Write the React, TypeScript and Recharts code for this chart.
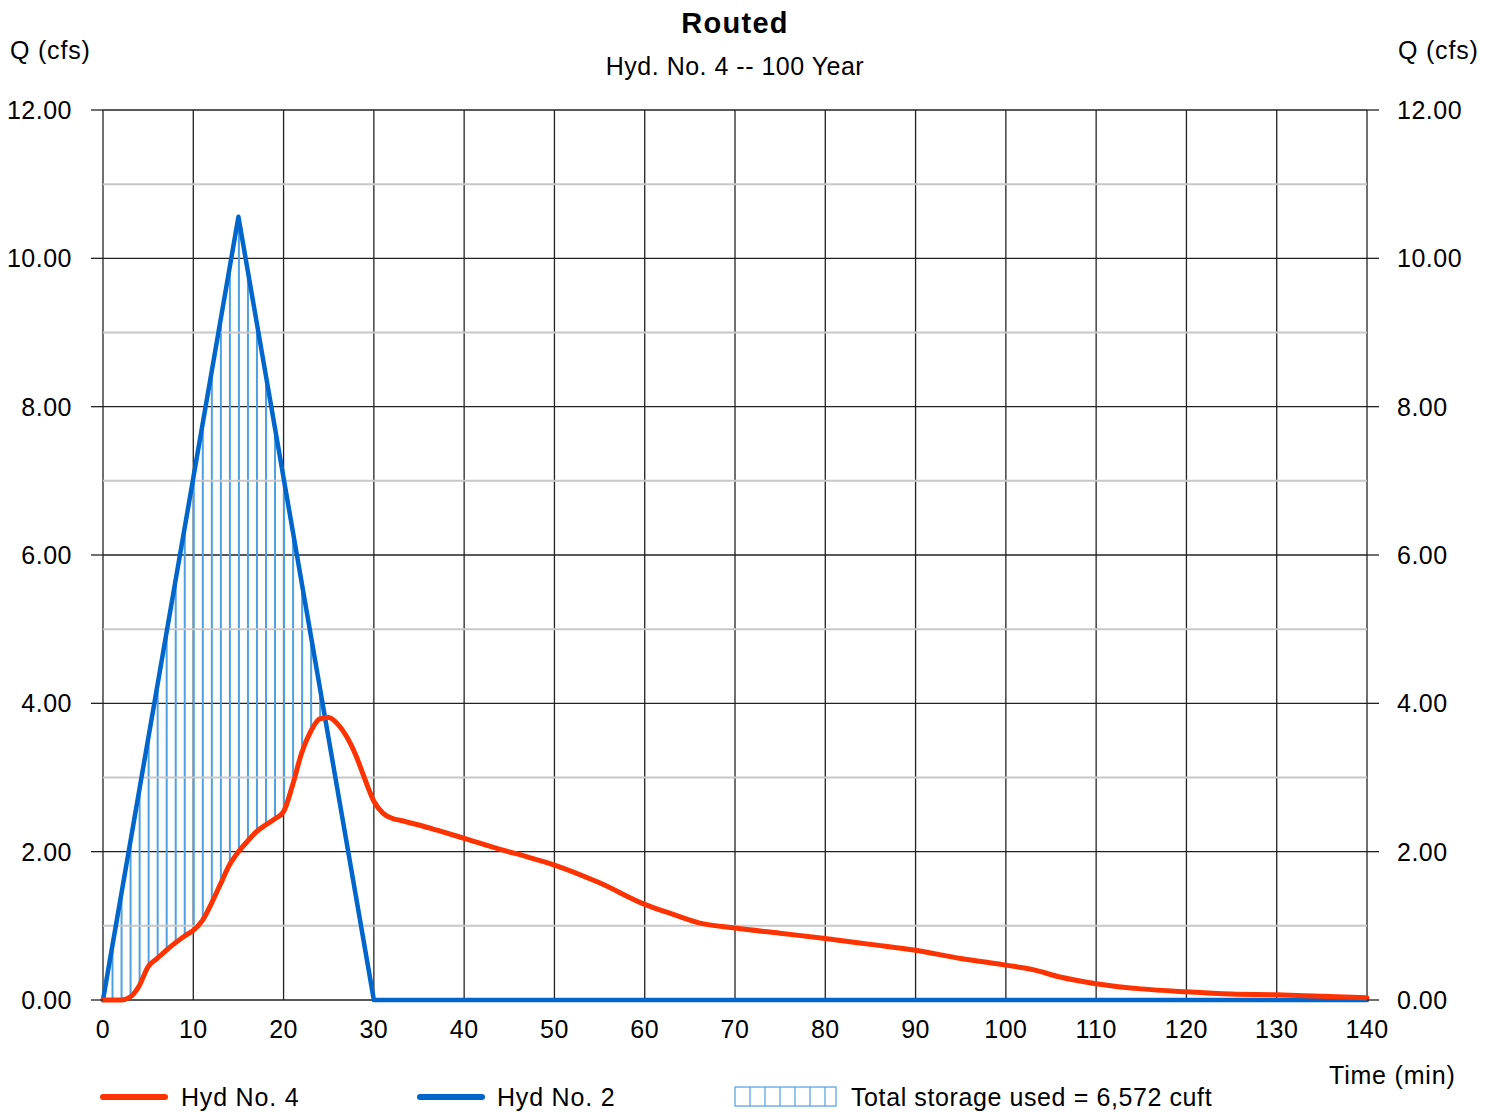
import React from "react";
import {
    ComposedChart,
    Line,
    Bar,
    XAxis,
    YAxis,
    CartesianGrid,
    ReferenceLine,
} from "recharts";

const redTimes = [
    0, 1, 2, 3, 4, 5, 6, 7, 8, 9, 10, 11, 12, 13, 14, 15, 16, 17, 18, 19, 20, 21, 22, 23, 24, 25, 26, 27, 28, 29, 30, 31, 32, 33,
    35, 37, 40, 44, 47, 50, 55, 60, 63, 66, 70, 75, 80, 85, 90, 95, 100, 103, 106, 110, 115, 120, 125, 130, 135, 140,
];
const redFlow = [
    0, 0, 0, 0.04, 0.19, 0.45, 0.56, 0.67, 0.77, 0.86, 0.94, 1.07, 1.3, 1.56, 1.82, 2.0, 2.14, 2.27, 2.36, 2.44, 2.54, 2.9, 3.33,
    3.62, 3.79, 3.81, 3.72, 3.55, 3.3, 2.98, 2.68, 2.52, 2.45, 2.42,
    2.36, 2.29, 2.18, 2.03, 1.93, 1.82, 1.58, 1.29, 1.16, 1.04, 0.97, 0.9, 0.83, 0.75, 0.67, 0.56, 0.47, 0.41, 0.31, 0.22, 0.15,
    0.11, 0.08, 0.07, 0.05, 0.03,
];

const blueTimes = [0, 15, 30, 140];
const blueFlow = [0, 10.56, 0, 0];

// storage hatch: one vertical stroke per minute, from outflow up to inflow
const hatchTimes = [1, 2, 3, 4, 5, 6, 7, 8, 9, 10, 11, 12, 13, 14, 15, 16, 17, 18, 19, 20, 21, 22, 23, 24];
const hatchTop = [
    0.7, 1.41, 2.11, 2.82, 3.52, 4.22, 4.93, 5.63, 6.34, 7.04, 7.74, 8.45, 9.15, 9.86, 10.56, 9.86, 9.15, 8.45, 7.74, 7.04,
    6.34, 5.63, 4.93, 4.22,
];

const xTicks = [0, 10, 20, 30, 40, 50, 60, 70, 80, 90, 100, 110, 120, 130, 140];
const yTicks = [0, 2, 4, 6, 8, 10, 12];
const yMinor = [1, 3, 5, 7, 9, 11];

type Row = { t: number; red?: number; blue?: number; hatch?: [number, number] };

const buildRows = (): Row[] => {
    const map = new Map<number, Row>();
    const get = (t: number) => {
        if (!map.has(t)) map.set(t, { t });
        return map.get(t)!;
    };
    redTimes.forEach((t, i) => (get(t).red = redFlow[i]));
    blueTimes.forEach((t, i) => (get(t).blue = blueFlow[i]));
    hatchTimes.forEach((t, i) => {
        const low = redFlow[redTimes.indexOf(t)];
        get(t).hatch = [low, hatchTop[i]];
    });
    return Array.from(map.values()).sort((a, b) => a.t - b.t);
};

const data = buildRows();

const FONT = '"Liberation Sans", Arial, sans-serif';
const RED = "#ff3300";
const BLUE = "#0066cc";
const HATCH = "#4ea1e0";

const tickStyle = { fill: "#000", fontSize: 25, fontFamily: FONT, letterSpacing: 0.5 };

const txt: React.CSSProperties = {
    position: "absolute",
    fontFamily: FONT,
    fontSize: 25,
    color: "#000",
    whiteSpace: "nowrap",
    lineHeight: "25px",
    letterSpacing: 0.8,
};

const App = () => {
    return (
        <div style={{ position: "absolute", left: 0, top: 0, width: 1496, height: 1112, background: "#fff", overflow: "hidden" }}>
            <ComposedChart width={1496} height={1112} data={data} margin={{ top: 110, right: 0, bottom: 0, left: 0 }}>
                <CartesianGrid stroke="#222" strokeWidth={1.3} horizontal={false} verticalValues={xTicks} />
                {yMinor.map((v) => (
                    <ReferenceLine key={v} yAxisId="left" y={v} stroke="#c8c8c8" strokeWidth={2} />
                ))}
                <CartesianGrid stroke="#222" strokeWidth={1.3} vertical={false} yAxisId="left" />
                <XAxis
                    dataKey="t"
                    type="number"
                    domain={[0, 140]}
                    ticks={xTicks}
                    height={112}
                    axisLine={false}
                    tickLine={false}
                    tickSize={0}
                    tickMargin={20}
                    tick={tickStyle}
                />
                <YAxis
                    yAxisId="left"
                    orientation="left"
                    domain={[0, 12]}
                    ticks={yTicks}
                    width={103}
                    axisLine={false}
                    tickSize={12}
                    tickMargin={19}
                    tickLine={{ stroke: "#222", strokeWidth: 1.3 }}
                    tickFormatter={(v: number) => v.toFixed(2)}
                    tick={tickStyle}
                />
                <YAxis
                    yAxisId="right"
                    orientation="right"
                    domain={[0, 12]}
                    ticks={yTicks}
                    width={129}
                    axisLine={false}
                    tickSize={12}
                    tickMargin={18}
                    tickLine={{ stroke: "#222", strokeWidth: 1.3 }}
                    tickFormatter={(v: number) => v.toFixed(2)}
                    tick={tickStyle}
                />
                <Bar yAxisId="left" dataKey="hatch" barSize={2} fill={HATCH} isAnimationActive={false} />
                <Line
                    yAxisId="left"
                    type="linear"
                    dataKey="blue"
                    stroke={BLUE}
                    strokeWidth={4.5}
                    dot={false}
                    connectNulls
                    strokeLinejoin="round"
                    strokeLinecap="round"
                    isAnimationActive={false}
                />
                <Line
                    yAxisId="right"
                    type="monotone"
                    dataKey="red"
                    stroke={RED}
                    strokeWidth={5}
                    dot={false}
                    connectNulls
                    strokeLinejoin="round"
                    strokeLinecap="round"
                    isAnimationActive={false}
                />
            </ComposedChart>

            {/* titles and axis captions */}
            <div style={{ ...txt, left: 0, width: 1470, top: 9, textAlign: "center", fontWeight: "bold", fontSize: 29, lineHeight: "29px", letterSpacing: 1.3 }}>
                Routed
            </div>
            <div style={{ ...txt, left: 0, width: 1470, top: 54, textAlign: "center", letterSpacing: 0.5 }}>Hyd. No. 4 -- 100 Year</div>
            <div style={{ ...txt, left: 10, top: 38 }}>Q (cfs)</div>
            <div style={{ ...txt, left: 1398, top: 38 }}>Q (cfs)</div>
            <div style={{ ...txt, left: 1329, top: 1063 }}>Time (min)</div>

            {/* legend */}
            <div style={{ position: "absolute", left: 100, top: 1094, width: 68, height: 6, borderRadius: 3, background: RED }} />
            <div style={{ ...txt, left: 181, top: 1085 }}>Hyd No. 4</div>
            <div style={{ position: "absolute", left: 417, top: 1094, width: 68, height: 6, borderRadius: 3, background: BLUE }} />
            <div style={{ ...txt, left: 497, top: 1085 }}>Hyd No. 2</div>
            <svg style={{ position: "absolute", left: 734, top: 1086 }} width={104} height={22}>
                <rect x={1} y={1} width={101} height={19} fill="none" stroke={HATCH} strokeWidth={1.2} />
                {[16, 31, 46, 61, 76, 91].map((x) => (
                    <line key={x} x1={x} y1={1} x2={x} y2={20} stroke={HATCH} strokeWidth={1.2} />
                ))}
            </svg>
            <div style={{ ...txt, left: 851, top: 1085, letterSpacing: 0.6 }}>Total storage used = 6,572 cuft</div>
        </div>
    );
};

export default App;
